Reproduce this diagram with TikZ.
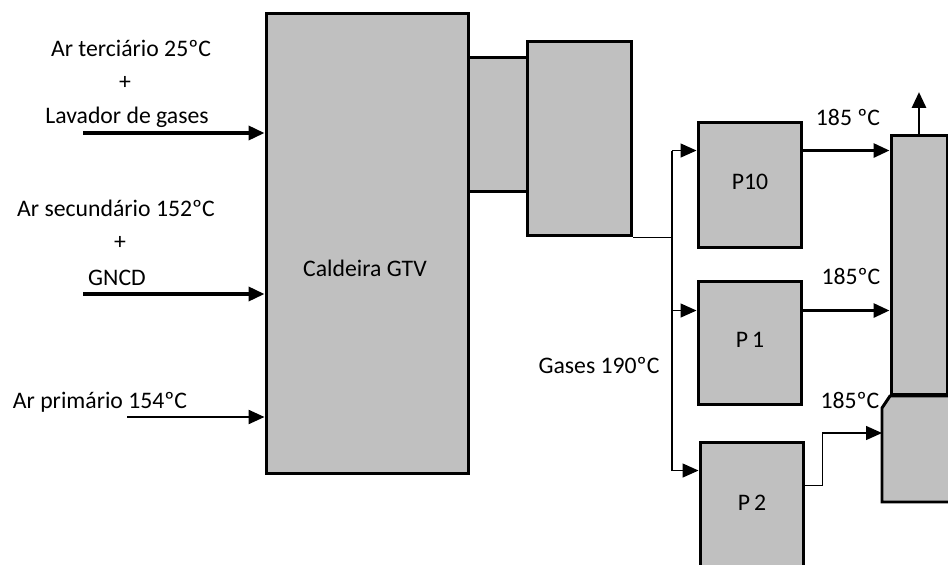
\documentclass[tikz,border=0pt]{standalone}
\usepackage{fontspec}
\setmainfont{Carlito}
\usepackage{tikz}
\usetikzlibrary{arrows.meta,calc}
\definecolor{cinza}{HTML}{C0C0C0}
\tikzset{
  bloco/.style={rectangle, draw=black, line width=1.7pt, fill=cinza, inner sep=0pt,
                minimum width=#1},
  rot/.style={font=\fontsize{13.5}{15}\selectfont, inner sep=0pt},
  seta/.style={-{Triangle[length=3.2mm,width=2.8mm]}, line width=2pt},
  setafina/.style={-{Triangle[length=3.2mm,width=2.8mm]}, line width=0.8pt},
  linha/.style={line width=0.8pt},
}
\begin{document}
\begin{tikzpicture}[x=0.02cm, y=-0.02cm]
        \useasboundingbox (0,0) rectangle (948,565);
        \clip (0,0) rectangle (948,565);
        \node[bloco=4.06cm, minimum height=9.22cm] (cald) at (367.5,243.5) {};
        \node[rot] (tcald) at (365,268) {Caldeira GTV};
        \node[bloco=1.18cm, minimum height=2.7cm] (liga) at (498,124.5) {};
        \node[bloco=2.1cm, minimum height=3.9cm] (filtro) at (579.5,138.5) {};
        \node[bloco=2.08cm, minimum height=2.52cm] (p10) at (750,185) {};
        \node[bloco=2.08cm, minimum height=2.48cm] (p1) at (750,343) {};
        \node[bloco=2.08cm, minimum height=2.52cm] (p2) at (752,505) {};
        \node[rot] at (750,182) {P10};
        \node[rot] at (750,340) {P\,1};
        \node[rot] at (752,503) {P\,2};
        \node[bloco=1.12cm, minimum height=5.2cm] (chamine) at (919,265) {};
        \draw[line width=1.7pt, fill=cinza] (882,408) -- (890,396) -- (955,396) -- (955,502) -- (882,502) -- cycle;
        \coordinate (base) at (882,433);
        \coordinate (topo) at (919,92);
        \draw[seta, line width=1.7pt] (chamine.north) -- (topo);

        \node[rot] (t3a) at (131,48) {Ar terciário 25ºC};
        \node[rot] (t3b) at (125,83) {+};
        \node[rot] (t3c) at (127,117) {Lavador de gases};
        \node[rot] (t2a) at (116,208) {Ar secundário 152ºC};
        \node[rot] (t2b) at (120,243) {+};
        \node[rot] (t2c) at (117,278) {GNCD};
        \node[rot] (t1a) at (100,402) {Ar primário 154ºC};
        \coordinate (a3) at (83,133);
        \coordinate (a2) at (83,294);
        \coordinate (a1) at (127,417);
        \draw[seta] (a3) -- (a3 -| cald.west);
        \draw[seta] (a2) -- (a2 -| cald.west);
        \draw[setafina, line width=1.3pt] (a1) -- (a1 -| cald.west);

        \coordinate (ramo) at (672,0);
        \coordinate (e10) at ($(p10.north west)+(0,30)$);
        \coordinate (e1) at ($(p1.north west)+(0,31)$);
        \coordinate (e2) at ($(p2.north west)+(0,30)$);
        \draw[linha] (filtro.south east) -- (filtro.south east -| ramo);
        \draw[linha] (ramo |- e10) -- (ramo |- e2);
        \draw[setafina] (ramo |- e10) -- (e10);
        \draw[setafina] (ramo |- e1) -- (e1);
        \draw[setafina] (ramo |- e2) -- (e2);
        \node[rot] (tgas) at (599,365) {Gases 190ºC};

        \coordinate (s10) at ($(p10.north east)+(0,30)$);
        \coordinate (s1) at ($(p1.north east)+(0,31)$);
        \coordinate (s2) at ($(p2.north east)+(0,45)$);
        \draw[seta, line width=1.7pt] (s10) -- (s10 -| chamine.west);
        \draw[seta, line width=1.7pt] (s1) -- (s1 -| chamine.west);
        \draw[setafina] (s2) -- ++(17,0) |- (base);
        \node[rot] (t10) at (848,117) {185 ºC};
        \node[rot] (t1) at (851,276) {185ºC};
        \node[rot] (t2) at (850,400) {185ºC};
      \end{tikzpicture}
\end{document}
